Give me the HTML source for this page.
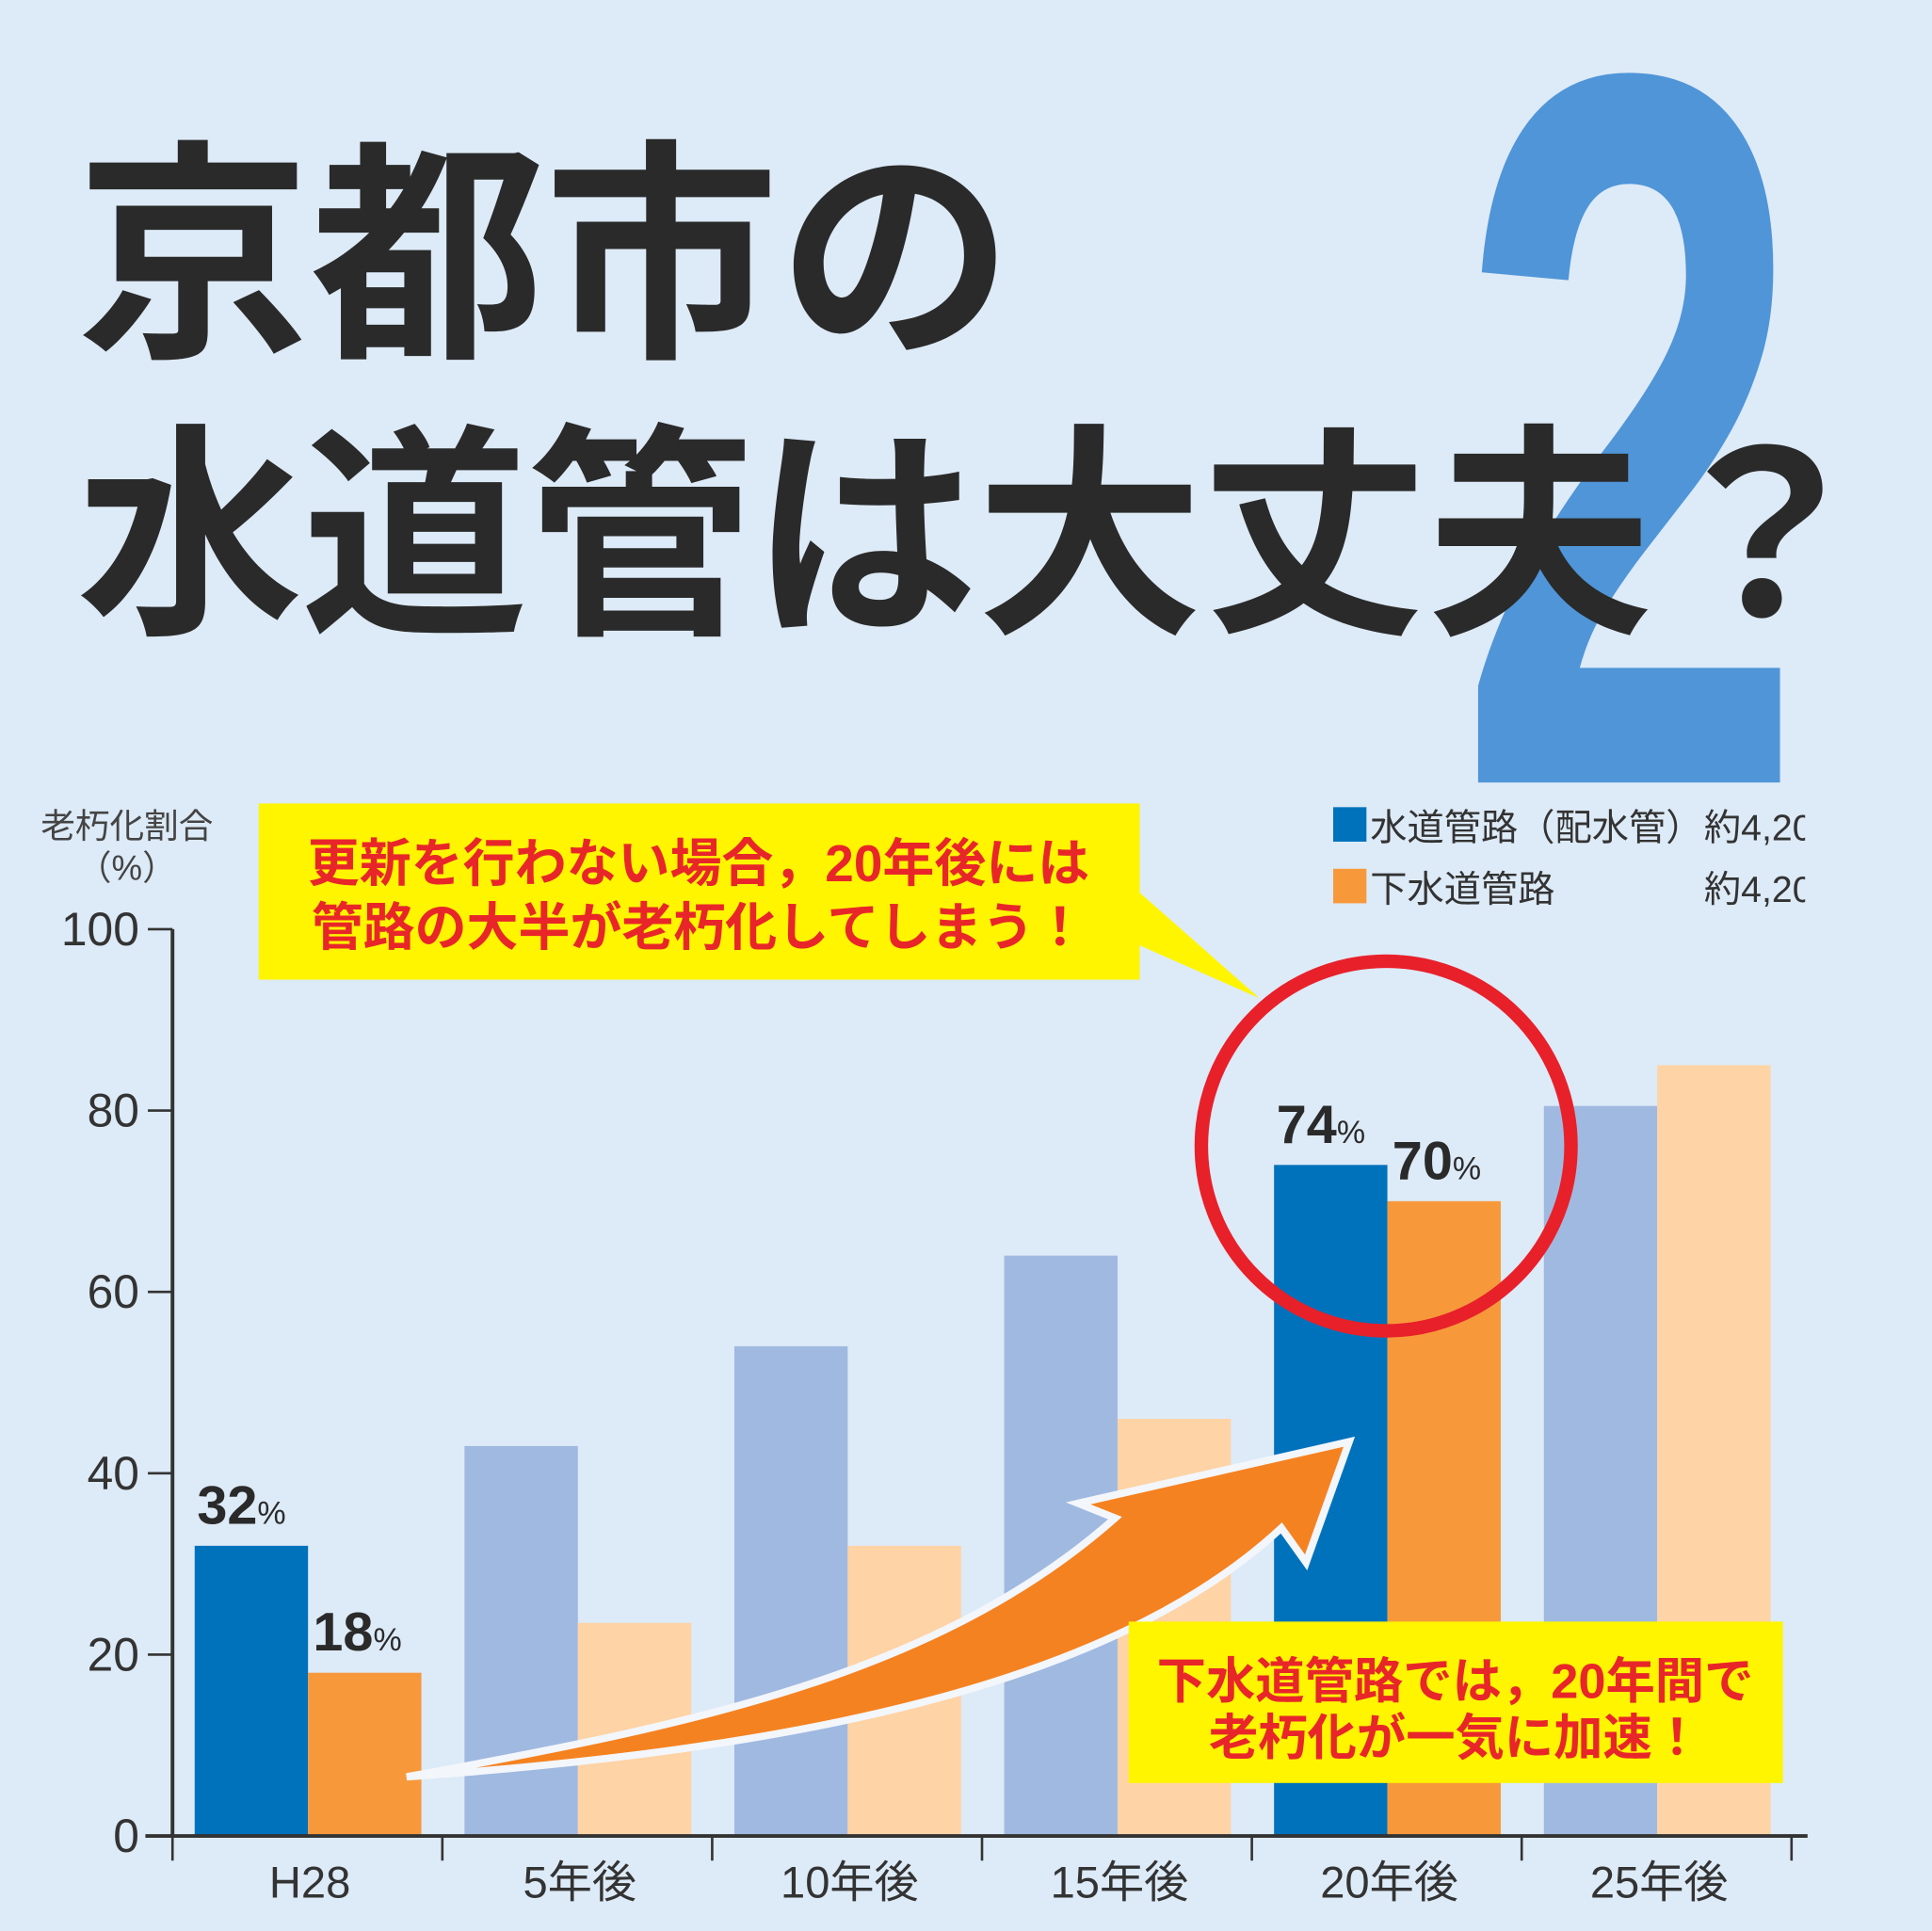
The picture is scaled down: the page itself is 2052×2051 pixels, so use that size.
<!DOCTYPE html>
<html><head><meta charset="utf-8"><style>
html,body{margin:0;padding:0;background:#ddeaf7;}
svg{display:block;}
text{font-family:"Liberation Sans","Noto Sans CJK JP",sans-serif;}
</style></head><body>
<svg id="chart" width="2052" height="2051" viewBox="0 0 1568 1567" xmlns="http://www.w3.org/2000/svg">
<rect width="1568" height="1567" fill="#ddeaf7"/>
<text x="1182" y="635" font-size="825" font-weight="bold" fill="#4f95d8" textLength="283" lengthAdjust="spacingAndGlyphs">2</text>
<text x="62" y="275" font-size="190" font-weight="bold" fill="#2a2a2a" style="font-family:'Noto Sans CJK JP',sans-serif">京都市の</text>
<text x="62" y="500" font-size="184" font-weight="bold" fill="#2a2a2a" textLength="1462" style="font-family:'Noto Sans CJK JP',sans-serif">水道管は大丈夫？</text>
<g id="legend">
<rect x="1082" y="655" width="27" height="28" fill="#0072bc"/>
<text x="1112" y="682" font-size="30" fill="#333">水道管路（配水管）</text>
<rect x="1082" y="705" width="27" height="28" fill="#f7993a"/>
<text x="1112" y="732" font-size="30" fill="#333">下水道管路</text>
<clipPath id="lc"><rect x="1370" y="640" width="95" height="110"/></clipPath>
<g clip-path="url(#lc)"><text x="1383" y="682" font-size="30" fill="#333">約4,200</text>
<text x="1383" y="732" font-size="30" fill="#333">約4,200</text></g>
</g>
<text x="103" y="680" font-size="28" fill="#444" text-anchor="middle">老朽化割合</text>
<text x="103" y="714" font-size="28" fill="#444" text-anchor="middle">（%）</text>
<g id="plot"></g>
<path d="M330,1442 C560,1400 760,1360 905,1232 L875,1220 L1095,1170 L1060,1268 L1040,1240 C900,1370 640,1420 330,1442 Z" fill="#f58220" stroke="#f3f6fb" stroke-width="6"/>
<ellipse cx="1125" cy="930" rx="150" ry="150" fill="none" stroke="#e8202a" stroke-width="11"/>
<g>
<polygon points="920,720 1022,810 920,765" fill="#fff500"/>
<rect x="210" y="652" width="715" height="143" fill="#fff500"/>
<text x="567" y="715" font-size="42" font-weight="bold" fill="#e8262a" text-anchor="middle">更新を行わない場合，20年後には</text>
<text x="567" y="767" font-size="42" font-weight="bold" fill="#e8262a" text-anchor="middle">管路の大半が老朽化してしまう！</text>
</g>
<g>
<rect x="916" y="1316" width="531" height="131" fill="#fff500"/>
<text x="1181" y="1378" font-size="40" font-weight="bold" fill="#e8262a" text-anchor="middle">下水道管路では，20年間で</text>
<text x="1181" y="1424" font-size="40" font-weight="bold" fill="#e8262a" text-anchor="middle">老朽化が一気に加速！</text>
</g>
</svg>
<script>
const categories = ["H28","5年後","10年後","15年後","20年後","25年後"];
const waterValues = [32, 43, 54, 64, 74, 80.5];
const sewerValues = [18, 23.5, 32, 46, 70, 85];
const yTicks = [0, 20, 40, 60, 80, 100];
const highlighted = [true, false, false, false, true, false];
const valueLabels = {0:["32","18"], 4:["74","70"]};

const NS = "http://www.w3.org/2000/svg";
const plot = document.getElementById('plot');
const x0 = 140, groupW = 219, y0 = 1490, y100 = 754;
const yS = v => y0 - (y0 - y100) * v / 100;
const xG = i => x0 + i * groupW;
function mk(tag, attrs){ const e = document.createElementNS(NS, tag); for (const k in attrs) e.setAttribute(k, attrs[k]); plot.appendChild(e); return e; }

categories.forEach((c, i) => {
  const bx = xG(i) + 18;
  const hw = yS(0) - yS(waterValues[i]);
  const b1 = mk('rect', {x: bx, y: yS(waterValues[i]), width: 92, height: hw, fill: highlighted[i] ? '#0072bc' : '#a0b9e0'});
  
  
  const hs = yS(0) - yS(sewerValues[i]);
  const b2 = mk('rect', {x: bx + 92, y: yS(sewerValues[i]), width: 92, height: hs, fill: highlighted[i] ? '#f7993a' : '#fed3a5'});
  
  
  const t = mk('text', {x: xG(i) + groupW / 2 + 2, y: 1540, 'font-size': 36, fill: '#333', 'text-anchor': 'middle'});
  t.textContent = c;
  
  
  if (valueLabels[i]) {
    [[waterValues[i], bx + 2], [sewerValues[i], bx + 96]].forEach((p, j) => {
      const vt = mk('text', {x: p[1], y: yS(p[0]) - 18, 'font-size': 44, 'font-weight': 'bold', fill: '#2a2a2a'});
      vt.innerHTML = valueLabels[i][j] + '<tspan font-size="26" font-weight="normal">%</tspan>';
      
      
    });
  }
});
for (let i = 0; i <= categories.length; i++) {
  const tk = mk('line', {x1: xG(i), x2: xG(i), y1: y0, y2: y0 + 20, stroke: '#333', 'stroke-width': 2});
  
  
}
yTicks.forEach(v => {
  const l = mk('line', {x1: 120, x2: 140, y1: yS(v), y2: yS(v), stroke: '#333', 'stroke-width': 2});
  
  
  const t = mk('text', {x: 113, y: yS(v) + 13, 'font-size': 38, fill: '#333', 'text-anchor': 'end'});
  t.textContent = v;
  
  
});
const ya = mk('line', {x1: 140, x2: 140, y1: y100, y2: y0, stroke: '#333', 'stroke-width': 3});


const xa = mk('line', {x1: 118, x2: 1467, y1: y0, y2: y0, stroke: '#333', 'stroke-width': 3});


</script>
</body></html>
